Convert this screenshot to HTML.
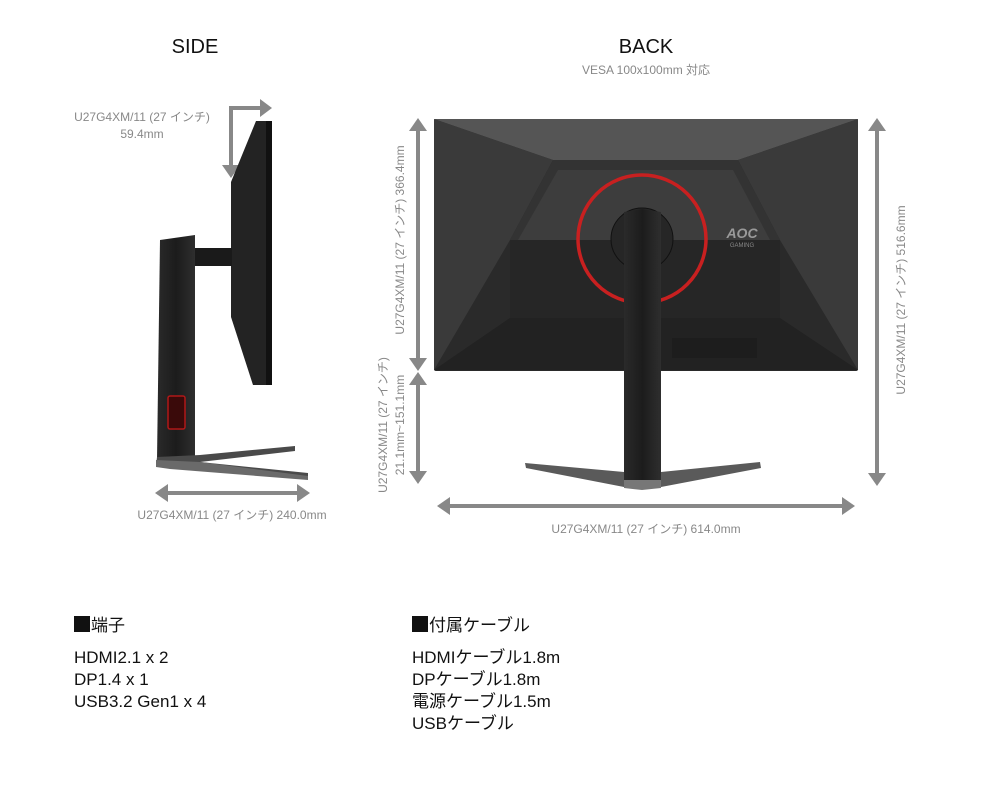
<!DOCTYPE html>
<html><head><meta charset="utf-8"><style>
html,body{margin:0;padding:0;background:#fff;width:1000px;height:789px;overflow:hidden}
svg{display:block}
text{font-family:"Liberation Sans","Noto Sans CJK JP",sans-serif}
</style></head><body>
<svg width="1000" height="789" viewBox="0 0 1000 789" xmlns="http://www.w3.org/2000/svg">
<defs>
<linearGradient id="st" x1="0" x2="1"><stop offset="0" stop-color="#2a2a2a"/><stop offset="0.5" stop-color="#1c1c1c"/><stop offset="1" stop-color="#2e2e2e"/></linearGradient>
</defs>
<text x="195" y="53" font-size="20" text-anchor="middle" fill="#111">SIDE</text>
<text x="646" y="53" font-size="20" text-anchor="middle" fill="#111">BACK</text>
<text x="646" y="74" font-size="12" text-anchor="middle" fill="#888">VESA 100x100mm 対応</text>

<g fill="#888" stroke="none">
<text x="142" y="121" font-size="12" text-anchor="middle">U27G4XM/11 (27 インチ)</text>
<text x="142" y="138" font-size="12" text-anchor="middle">59.4mm</text>
<text x="232" y="519" font-size="12" text-anchor="middle">U27G4XM/11 (27 インチ) 240.0mm</text>
</g>
<g stroke="#888" stroke-width="4" fill="none">
<polyline points="231,168 231,108 262,108"/>
<line x1="165" y1="493" x2="300" y2="493"/>
</g>
<g fill="#888">
<polygon points="272,108 260,99 260,117"/>
<polygon points="231,178 222,165 240,165"/>
<polygon points="155,493 168,484 168,502"/>
<polygon points="310,493 297,484 297,502"/>
</g>
<polygon points="256,121 272,121 272,385 253,385 231,317 231,182" fill="#232323"/>
<rect x="266" y="121" width="6" height="264" fill="#111"/>
<rect x="192" y="248" width="40" height="18" fill="#1a1a1a"/>
<polygon points="160,240 195,235 195,460 157,460" fill="url(#st)"/>
<rect x="168" y="396" width="17" height="33" fill="#3a0a0a" stroke="#b01818" stroke-width="1.5" rx="2"/>
<polygon points="157,457 200,455 295,446 295,451 200,462 308,473 308,479 170,468 156,466" fill="#4a4a4a"/>
<polygon points="156,460 200,462 308,476 308,480 170,469 156,467" fill="#6a6a6a"/>

<g stroke="#888" stroke-width="4">
<line x1="418" y1="128" x2="418" y2="361"/>
<line x1="418" y1="381" x2="418" y2="474"/>
<line x1="877" y1="128" x2="877" y2="476"/>
<line x1="447" y1="506" x2="843" y2="506"/>
</g>
<g fill="#888">
<polygon points="418,118 409,131 427,131"/>
<polygon points="418,371 409,358 427,358"/>
<polygon points="418,372 409,385 427,385"/>
<polygon points="418,484 409,471 427,471"/>
<polygon points="877,118 868,131 886,131"/>
<polygon points="877,486 868,473 886,473"/>
<polygon points="437,506 450,497 450,515"/>
<polygon points="855,506 842,497 842,515"/>
</g>
<g fill="#888" font-size="12" text-anchor="middle">
<text transform="translate(404,240) rotate(-90)">U27G4XM/11 (27 インチ) 366.4mm</text>
<text transform="translate(387,425) rotate(-90)">U27G4XM/11 (27 インチ)</text>
<text transform="translate(404,425) rotate(-90)">21.1mm~151.1mm</text>
<text transform="translate(905,300) rotate(-90)">U27G4XM/11 (27 インチ) 516.6mm</text>
<text x="646" y="533">U27G4XM/11 (27 インチ) 614.0mm</text>
</g>
<rect x="434" y="119" width="424" height="252" fill="#2a2a2a" rx="2"/>
<polygon points="434,119 858,119 738,160 553,160" fill="#555"/>
<polygon points="434,119 553,160 510,240 434,370" fill="#3a3a3a"/>
<polygon points="858,119 738,160 780,240 858,370" fill="#3a3a3a"/>
<polygon points="553,160 738,160 780,240 510,240" fill="#333"/>
<polygon points="558,170 733,170 770,240 518,240" fill="#3d3d3d"/>
<polygon points="510,240 780,240 780,318 510,318" fill="#262626"/>
<polygon points="434,370 510,318 780,318 858,370" fill="#222"/>
<rect x="672" y="338" width="85" height="20" fill="#1d1d1d"/>
<circle cx="642" cy="239" r="64" fill="none" stroke="#c82020" stroke-width="3.5"/>
<circle cx="642" cy="239" r="31" fill="#262626" stroke="#111" stroke-width="1"/>
<text x="742" y="238" font-size="14" font-weight="bold" font-style="italic" fill="#9a9a9a" text-anchor="middle">AOC</text>
<text x="742" y="247" font-size="6" fill="#888" text-anchor="middle">GAMING</text>
<polygon points="525,463 624,472 661,472 760,462 761,468 661,487 624,487 526,468" fill="#5a5a5a"/>
<polygon points="624,478 661,478 661,488 642,490 624,488" fill="#777"/>
<polygon points="624,212 642,209 661,212 661,480 624,480" fill="url(#st)"/>

<rect x="74" y="616" width="16" height="16" fill="#111"/>
<rect x="412" y="616" width="16" height="16" fill="#111"/>
<g font-size="17" fill="#111">
<text x="91" y="631">端子</text>
<text x="74" y="663">HDMI2.1 x 2</text>
<text x="74" y="685">DP1.4 x 1</text>
<text x="74" y="707">USB3.2 Gen1 x 4</text>
<text x="429" y="631">付属ケーブル</text>
<text x="412" y="663">HDMIケーブル1.8m</text>
<text x="412" y="685">DPケーブル1.8m</text>
<text x="412" y="707">電源ケーブル1.5m</text>
<text x="412" y="729">USBケーブル</text>
</g>
</svg>
</body></html>
